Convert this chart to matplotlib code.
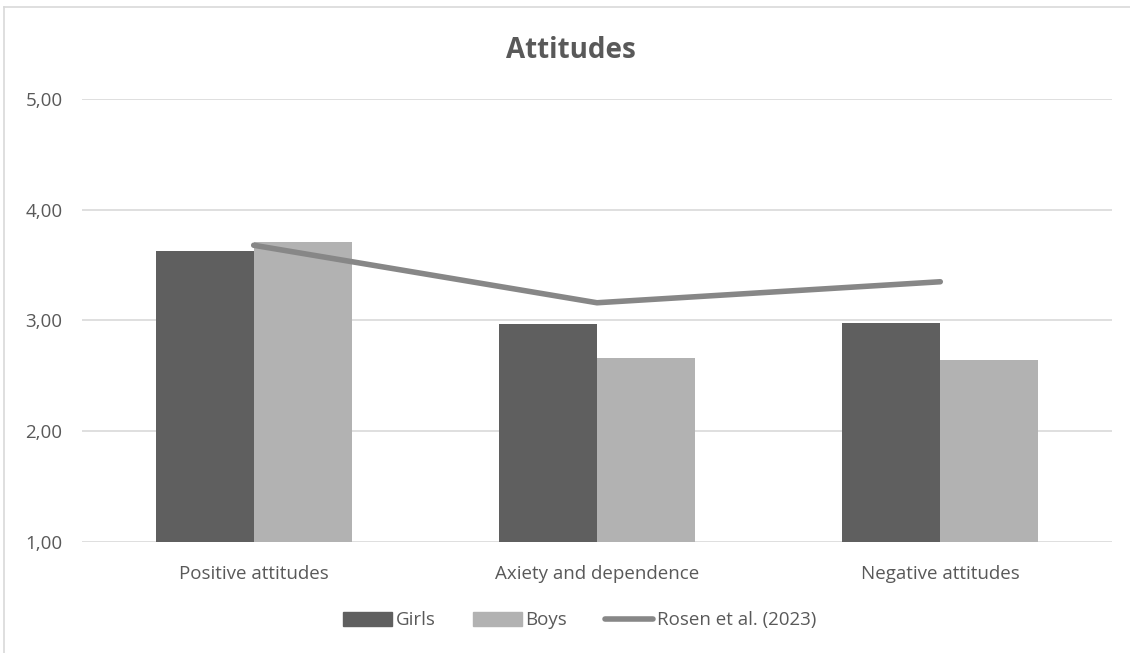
import matplotlib.pyplot as plt
from matplotlib.lines import Line2D
from matplotlib.ticker import FuncFormatter
import numpy as np

plt.rcParams['font.family'] = ['Open Sans', 'DejaVu Sans']

categories = ["Positive attitudes", "Axiety and dependence", "Negative attitudes"]
girls = [3.63, 2.97, 2.98]
boys = [3.71, 2.66, 2.64]
rosen = [3.68, 3.16, 3.35]

text_col = "#595959"
girls_col = "#5f5f5f"
boys_col = "#b2b2b2"
line_col = "#878787"
grid_col = "#d9d9d9"

fig = plt.figure(figsize=(11.3, 6.53), dpi=100)
ax = fig.add_axes([0.0726, 0.1705, 0.9114, 0.6775])

x = np.arange(len(categories))
w = 0.286
ax.bar(x - w / 2, [g - 1 for g in girls], w, bottom=1, color=girls_col, label="Girls", zorder=2)
ax.bar(x + w / 2, [b - 1 for b in boys], w, bottom=1, color=boys_col, label="Boys", zorder=2)
ax.plot(x, rosen, color=line_col, lw=4, solid_capstyle="round", label="Rosen et al. (2023)", zorder=3)

ax.set_xlim(-0.5, 2.5)
ax.set_ylim(1, 5)
ax.set_yticks([1, 2, 3, 4, 5])
ax.yaxis.set_major_formatter(FuncFormatter(lambda v, p: f"{v:.2f}".replace(".", ",")))
ax.set_xticks(x)
ax.set_xticklabels(categories)
ax.tick_params(axis="both", length=0, colors=text_col, labelsize=13.5)
ax.tick_params(axis="y", pad=14)
ax.tick_params(axis="x", pad=17)
ax.grid(axis="y", color=grid_col, lw=1.2, zorder=0)
for s in ax.spines.values():
    s.set_visible(False)

fig.text(0.505, 0.923, "Attitudes", ha="center", va="center", fontsize=20,
         fontweight="bold", color=text_col)

handles = [
    plt.Rectangle((0, 0), 1, 1, color=girls_col),
    plt.Rectangle((0, 0), 1, 1, color=boys_col),
    Line2D([0], [0], color=line_col, lw=4, solid_capstyle="round"),
]
leg = fig.legend(handles, ["Girls", "Boys", "Rosen et al. (2023)"], loc="center",
                 bbox_to_anchor=(0.513, 0.05), ncol=3, frameon=False, fontsize=13.5,
                 handlelength=2.6, handleheight=0.8, handletextpad=0.2, columnspacing=2.0)
for t in leg.get_texts():
    t.set_color(text_col)

# outer chart border
fig.add_artist(Line2D([0.0035, 0.0035], [0, 0.989], color=grid_col, lw=1.2))
fig.add_artist(Line2D([0.0035, 1], [0.989, 0.989], color=grid_col, lw=1.2))

fig.savefig("out.png", dpi=100, facecolor="white")
